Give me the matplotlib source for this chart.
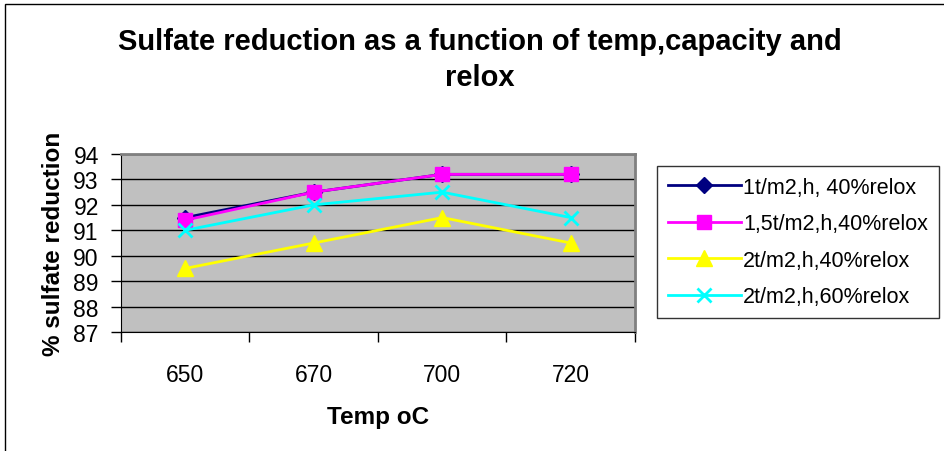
import matplotlib.pyplot as plt
from matplotlib.patches import Rectangle

plt.rcParams["font.family"] = ["Liberation Sans", "DejaVu Sans"]

temps = ["650", "670", "700", "720"]
s1 = [91.5, 92.5, 93.2, 93.2]
s2 = [91.4, 92.5, 93.2, 93.2]
s3 = [89.5, 90.5, 91.5, 90.5]
s4 = [91.0, 92.0, 92.5, 91.5]
labels = ["1t/m2,h, 40%relox", "1,5t/m2,h,40%relox", "2t/m2,h,40%relox", "2t/m2,h,60%relox"]

W, H = 944, 452
fig = plt.figure(figsize=(W / 100, H / 100), dpi=100)
ax = fig.add_axes([121 / W, 1 - 333 / H, (635 - 121) / W, (333 - 155) / H])
ax.set_facecolor("#c0c0c0")

x = range(len(temps))
ax.plot(x, s1, color="#000080", marker="D", markersize=8, lw=2, label=labels[0])
ax.plot(x, s2, color="#ff00ff", marker="s", markersize=10.5, lw=2, label=labels[1])
ax.plot(x, s3, color="#ffff00", marker="^", markersize=11, lw=2, label=labels[2])
ax.plot(x, s4, color="#00ffff", marker="x", markersize=10, mew=2, lw=2, label=labels[3])

ax.set_xlim(-0.5, len(temps) - 0.5)
ax.set_ylim(87, 94)
ax.set_yticks(range(87, 95))
ax.set_xticks([i - 0.5 for i in range(len(temps) + 1)])
ax.set_xticklabels([])
ax.set_xticks(list(x), minor=True)
ax.set_xticklabels(temps, minor=True, fontsize=16.5)
ax.tick_params(axis="x", which="minor", length=0, pad=22)
ax.tick_params(axis="x", which="major", length=7, width=1)
ax.tick_params(axis="y", length=7, width=1, labelsize=16.5, pad=9)
ax.grid(axis="y", color="black", lw=1)
ax.set_axisbelow(True)

for side in ["top", "right"]:
    ax.spines[side].set_color("#808080")
    ax.spines[side].set_linewidth(2)
ax.spines["left"].set_color("black")
ax.spines["bottom"].set_color("black")

ax.set_xlabel("Temp oC", fontsize=17.5, fontweight="bold", labelpad=14)
ax.set_ylabel("% sulfate reduction", fontsize=17.5, fontweight="bold", labelpad=6)

fig.text(480 / W, 1 - 42 / H, "Sulfate reduction as a function of temp,capacity and",
         ha="center", va="center", fontsize=21, fontweight="bold")
fig.text(480 / W, 1 - 78 / H, "relox", ha="center", va="center", fontsize=21, fontweight="bold")

leg = fig.legend(loc="upper left", bbox_to_anchor=(657 / W, 1 - 167 / H), fontsize=15.5,
                 frameon=True, fancybox=False, edgecolor="black", handlelength=3.4,
                 handletextpad=0.1, labelspacing=0.72, borderpad=0.5, borderaxespad=0)
leg.get_frame().set_linewidth(1)

fig.patches.append(Rectangle((5 / W, -0.1), 2, 1 - 5 / H + 0.1, transform=fig.transFigure,
                             fill=False, edgecolor="black", lw=1))

fig.savefig("out.png", dpi=100)
